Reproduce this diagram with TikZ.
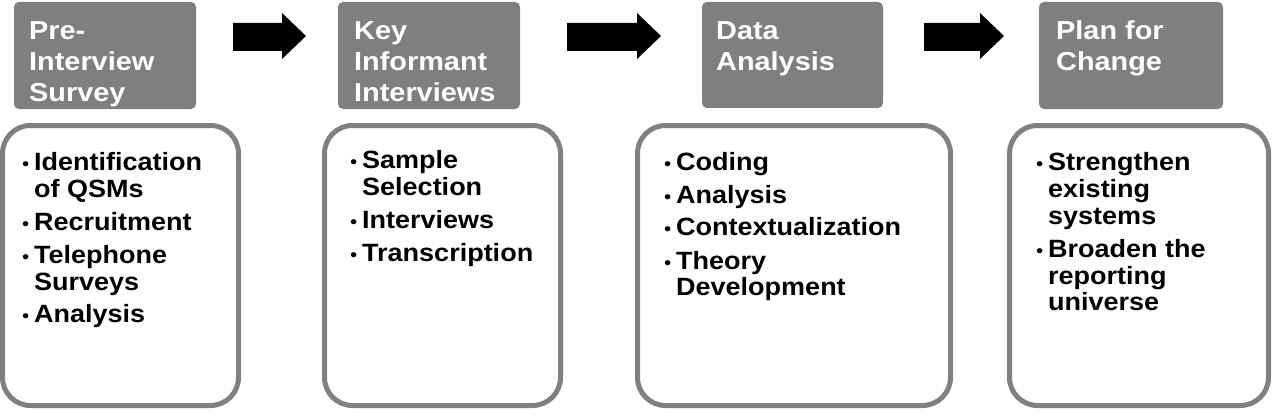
\documentclass[tikz,border=0pt]{standalone}
\usepackage{fontspec}
\setmainfont{Liberation Sans}
\newfontfamily\hdfont{Liberation Sans}[FakeStretch=1.11]
\newfontfamily\bdfont{Liberation Sans}[FakeStretch=1.08]
\definecolor{hdgray}{HTML}{7F7F7F}
\definecolor{bordergray}{HTML}{808080}
\newcommand\bul{\makebox[13pt][l]{\hspace*{1pt}{\mdseries\fontsize{19}{19}\selectfont•}}}
\newcommand\ind{\hspace*{13pt}}
\begin{document}
\begin{tikzpicture}[x=1pt,y=-1pt,
  hdbox/.style={fill=hdgray, draw=none, rounded corners=5pt, inner sep=0pt},
  bodybox/.style={draw=bordergray, line width=5pt, fill=white, rounded corners=28pt, inner sep=0pt},
  hdtext/.style={anchor=base west, inner sep=0pt, text=white, font=\hdfont\bfseries\fontsize{26}{31}\selectfont},
  bodytext/.style={anchor=base west, inner sep=0pt, text=black, font=\bdfont\bfseries\fontsize{25}{27}\selectfont},
  blockarrow/.style={fill=black}]
\useasboundingbox (0,0) rectangle (1278,420);

% header boxes
\node[hdbox, minimum width=182pt, minimum height=107pt] (h1) at (105,55.5) {};
\node[hdbox, minimum width=182pt, minimum height=107pt] (h2) at (429,55.5) {};
\node[hdbox, minimum width=181pt, minimum height=106pt] (h3) at (792.5,55) {};
\node[hdbox, minimum width=184pt, minimum height=107pt] (h4) at (1131,55.5) {};

\node[hdtext] (t1) at (29,40) {\vtop{\hbox{Pre-}\hbox{Interview}\hbox{Survey}}};
\node[hdtext] (t2) at (354,40) {\vtop{\hbox{Key}\hbox{Informant}\hbox{Interviews}}};
\node[hdtext] (t3) at (716,40) {\vtop{\hbox{Data}\hbox{Analysis}}};
\node[hdtext] (t4) at (1056,40) {\vtop{\hbox{Plan for}\hbox{Change}}};

% block arrows
\fill[blockarrow] (233,23) -- (282,23) -- (282,13) -- (306,36) -- (282,59) -- (282,51) -- (233,51) -- cycle;
\fill[blockarrow] (567,23) -- (637,23) -- (637,13) -- (661,36) -- (637,59) -- (637,51) -- (567,51) -- cycle;
\fill[blockarrow] (924,23) -- (980,23) -- (980,13) -- (1004,36) -- (980,59) -- (980,51) -- (924,51) -- cycle;

% body boxes
\node[bodybox, minimum width=236pt, minimum height=280pt] (b1) at (120.5,265.5) {};
\node[bodybox, minimum width=236pt, minimum height=280pt] (b2) at (442.5,265.5) {};
\node[bodybox, minimum width=313pt, minimum height=280pt] (b3) at (794,265.5) {};
\node[bodybox, minimum width=259pt, minimum height=280pt] (b4) at (1139,265.5) {};

\node[bodytext] (l1) at (21,170) {\vtop{\hbox{\bul Identification}\hbox{\ind of QSMs}\vskip6pt
  \hbox{\bul Recruitment}\vskip6pt\hbox{\bul Telephone}\hbox{\ind Surveys}\vskip6pt\hbox{\bul Analysis}}};
\node[bodytext] (l2) at (349,168) {\vtop{\hbox{\bul Sample}\hbox{\ind Selection}\vskip6pt
  \hbox{\bul Interviews}\vskip6pt\hbox{\bul Transcription}}};
\node[bodytext] (l3) at (663,170) {\vtop{\hbox{\bul Coding}\vskip6pt\hbox{\bul Analysis}\vskip6pt
  \hbox{\bul Contextualization}\vskip6pt\hbox{\bul Theory}\hbox{\ind Development}}};
\node[bodytext] (l4) at (1035,170) {\vtop{\hbox{\bul Strengthen}\hbox{\ind existing}\hbox{\ind systems}\vskip6pt
  \hbox{\bul Broaden the}\hbox{\ind reporting}\hbox{\ind universe}}};
\end{tikzpicture}
\end{document}
